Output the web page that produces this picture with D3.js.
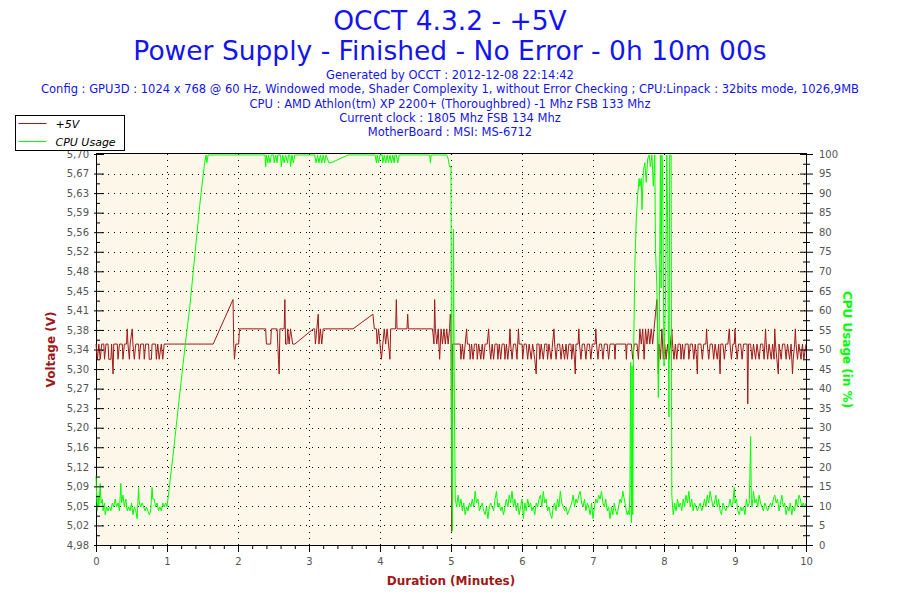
<!DOCTYPE html>
<html>
<head>
<meta charset="utf-8">
<script src="https://cdn.jsdelivr.net/npm/d3@7"></script>
<style>
  body { margin: 0; background: white; }
  svg { display: block; font-family: "DejaVu Sans", Verdana, sans-serif; }
</style>
</head>
<body>
<svg id="chart" width="900" height="600"></svg>
<script>
// titles + info lines
const titleLines = ["OCCT 4.3.2 - +5V", "Power Supply - Finished - No Error - 0h 10m 00s"]
const infoLines = [
    "Generated by OCCT : 2012-12-08 22:14:42",
    "Config : GPU3D : 1024 x 768 @ 60 Hz, Windowed mode, Shader Complexity 1, without Error Checking ; CPU:Linpack : 32bits mode, 1026,9MB",
    "CPU : AMD Athlon(tm) XP 2200+ (Thoroughbred) -1 Mhz FSB 133 Mhz",
    "Current clock : 1805 Mhz FSB 134 Mhz",
    "MotherBoard : MSI: MS-6712"
]
const seriesNames = ["+5V", "CPU Usage"]

// axis ticks
const voltTickLabels = ["4,98", "5,02", "5,05", "5,09", "5,12", "5,16", "5,20", "5,23", "5,27", "5,30", "5,34",
    "5,38", "5,41", "5,45", "5,48", "5,52", "5,56", "5,59", "5,63", "5,67", "5,70"]
const cpuTicks = [0, 5, 10, 15, 20, 25, 30, 35, 40, 45, 50, 55, 60, 65, 70, 75, 80, 85, 90, 95, 100]
const minuteTicks = [0, 1, 2, 3, 4, 5, 6, 7, 8, 9, 10]

// [minutes, volts]
const voltage = [
    [0, 5.35], [0.02, 5.322], [0.04, 5.35], [0.06, 5.322], [0.08, 5.35], [0.11, 5.35], [0.12, 5.322], [0.14, 5.35],
    [0.17, 5.35], [0.18, 5.322], [0.21, 5.322], [0.22, 5.35], [0.24, 5.295], [0.25, 5.35], [0.30, 5.35], [0.31, 5.322],
    [0.33, 5.35], [0.37, 5.35], [0.38, 5.322], [0.40, 5.35], [0.43, 5.35], [0.44, 5.378], [0.45, 5.35], [0.47, 5.322],
    [0.48, 5.35], [0.51, 5.378], [0.52, 5.35], [0.54, 5.322], [0.56, 5.35], [0.60, 5.35], [0.61, 5.322], [0.63, 5.35],
    [0.67, 5.35], [0.68, 5.322], [0.70, 5.35], [0.74, 5.35], [0.75, 5.322], [0.78, 5.322], [0.79, 5.35], [0.84, 5.35],
    [0.85, 5.322], [0.87, 5.35], [0.89, 5.322], [0.92, 5.35], [0.94, 5.322], [0.96, 5.35],
    [1.65, 5.35], [1.93, 5.432], [1.94, 5.35], [1.95, 5.322], [1.97, 5.35], [2.01, 5.35], [2.02, 5.378], [2.39, 5.378],
    [2.40, 5.35], [2.46, 5.35], [2.47, 5.378], [2.55, 5.378], [2.56, 5.35], [2.57, 5.322], [2.58, 5.295], [2.59, 5.378],
    [2.65, 5.378], [2.66, 5.432], [2.67, 5.35], [2.69, 5.35], [2.70, 5.378], [2.72, 5.35], [2.74, 5.378], [2.77, 5.35],
    [2.80, 5.35],
    [3.06, 5.378], [3.08, 5.378], [3.09, 5.35], [3.11, 5.378], [3.13, 5.405], [3.14, 5.35], [3.16, 5.378], [3.18, 5.35],
    [3.20, 5.378], [3.62, 5.378], [3.90, 5.405], [3.92, 5.378], [3.95, 5.378], [3.96, 5.35], [3.98, 5.378], [4.00, 5.35],
    [4.02, 5.322], [4.04, 5.35], [4.06, 5.378], [4.08, 5.35], [4.10, 5.378], [4.12, 5.35], [4.14, 5.322], [4.15, 5.378],
    [4.22, 5.378], [4.23, 5.432], [4.24, 5.378], [4.38, 5.378], [4.39, 5.405], [4.40, 5.378], [4.74, 5.378], [4.76, 5.35],
    [4.77, 5.432], [4.78, 5.378], [4.80, 5.35], [4.82, 5.378], [4.84, 5.322], [4.86, 5.378], [4.88, 5.35], [4.90, 5.378],
    [4.92, 5.35], [4.94, 5.378], [4.96, 5.35], [4.98, 5.378], [4.99, 5.405], [5.00, 5.39], [5.01, 5.005], [5.02, 5.35],
    [5.13, 5.35], [5.14, 5.322], [5.16, 5.35], [5.18, 5.322], [5.20, 5.35], [5.22, 5.378], [5.23, 5.35], [5.26, 5.35],
    [5.27, 5.322], [5.29, 5.35], [5.31, 5.322], [5.33, 5.35], [5.36, 5.35], [5.37, 5.322], [5.39, 5.35], [5.42, 5.322],
    [5.44, 5.35], [5.46, 5.322], [5.48, 5.35], [5.51, 5.35], [5.53, 5.378], [5.54, 5.35], [5.56, 5.322], [5.58, 5.35],
    [5.60, 5.322], [5.62, 5.35], [5.65, 5.35], [5.66, 5.322], [5.68, 5.35], [5.70, 5.322], [5.72, 5.35], [5.75, 5.35],
    [5.76, 5.322], [5.78, 5.35], [5.80, 5.322], [5.82, 5.35], [5.83, 5.378], [5.84, 5.35], [5.86, 5.322], [5.88, 5.35],
    [5.91, 5.35], [5.93, 5.322], [5.95, 5.378], [5.96, 5.35], [6.00, 5.35], [6.01, 5.322], [6.03, 5.35], [6.06, 5.35],
    [6.08, 5.322], [6.10, 5.35], [6.13, 5.322], [6.15, 5.35], [6.18, 5.322], [6.20, 5.295], [6.21, 5.35], [6.24, 5.35],
    [6.25, 5.322], [6.27, 5.35], [6.30, 5.322], [6.32, 5.35], [6.35, 5.35], [6.36, 5.322], [6.38, 5.35], [6.41, 5.322],
    [6.43, 5.35], [6.45, 5.378], [6.46, 5.35], [6.48, 5.322], [6.50, 5.35], [6.53, 5.35], [6.55, 5.322], [6.57, 5.35],
    [6.60, 5.322], [6.62, 5.35], [6.64, 5.322], [6.66, 5.35], [6.69, 5.35], [6.70, 5.322], [6.72, 5.35], [6.74, 5.322],
    [6.75, 5.295], [6.76, 5.35], [6.79, 5.35], [6.80, 5.378], [6.81, 5.35], [6.83, 5.322], [6.85, 5.35], [6.88, 5.35],
    [6.90, 5.322], [6.92, 5.35], [6.95, 5.35], [6.97, 5.322], [6.99, 5.35], [7.03, 5.35], [7.04, 5.378], [7.05, 5.35],
    [7.07, 5.322], [7.09, 5.35], [7.12, 5.35], [7.14, 5.322], [7.16, 5.35], [7.20, 5.35], [7.22, 5.322], [7.24, 5.35],
    [7.30, 5.35], [7.31, 5.322], [7.32, 5.35], [7.46, 5.35], [7.47, 5.322], [7.48, 5.35], [7.54, 5.35], [7.56, 5.322],
    [7.58, 5.35], [7.62, 5.35], [7.64, 5.322], [7.66, 5.378], [7.68, 5.35], [7.70, 5.378], [7.72, 5.322], [7.74, 5.378],
    [7.76, 5.35], [7.78, 5.378], [7.80, 5.35], [7.82, 5.378], [7.84, 5.35], [7.86, 5.378], [7.88, 5.405], [7.90, 5.432],
    [7.91, 5.378], [7.92, 5.295], [7.93, 5.35], [7.95, 5.322], [7.97, 5.378], [7.99, 5.322], [8.01, 5.35], [8.03, 5.322],
    [8.05, 5.35], [8.07, 5.322], [8.09, 5.35], [8.11, 5.378], [8.12, 5.35], [8.14, 5.322], [8.16, 5.35], [8.18, 5.322],
    [8.20, 5.35], [8.23, 5.35], [8.24, 5.322], [8.26, 5.35], [8.28, 5.322], [8.30, 5.35], [8.34, 5.35], [8.35, 5.322],
    [8.37, 5.35], [8.40, 5.35], [8.42, 5.322], [8.44, 5.35], [8.46, 5.322], [8.47, 5.295], [8.48, 5.35], [8.52, 5.35],
    [8.54, 5.322], [8.56, 5.35], [8.59, 5.35], [8.60, 5.378], [8.61, 5.35], [8.63, 5.322], [8.65, 5.35], [8.68, 5.35],
    [8.70, 5.322], [8.72, 5.35], [8.75, 5.322], [8.77, 5.35], [8.78, 5.322], [8.79, 5.295], [8.80, 5.35], [8.83, 5.35],
    [8.85, 5.322], [8.87, 5.35], [8.90, 5.35], [8.92, 5.378], [8.93, 5.35], [8.95, 5.322], [8.97, 5.35], [8.99, 5.35],
    [9.00, 5.378], [9.01, 5.35], [9.03, 5.322], [9.05, 5.35], [9.08, 5.35], [9.10, 5.322], [9.12, 5.35], [9.17, 5.35],
    [9.18, 5.24], [9.19, 5.35], [9.22, 5.35], [9.24, 5.322], [9.26, 5.35], [9.29, 5.322], [9.31, 5.35], [9.34, 5.322],
    [9.36, 5.35], [9.39, 5.35], [9.41, 5.322], [9.43, 5.378], [9.44, 5.35], [9.46, 5.322], [9.48, 5.35], [9.51, 5.322],
    [9.53, 5.35], [9.55, 5.322], [9.56, 5.378], [9.57, 5.35], [9.59, 5.322], [9.61, 5.295], [9.62, 5.35], [9.65, 5.322],
    [9.67, 5.35], [9.70, 5.35], [9.72, 5.322], [9.74, 5.35], [9.77, 5.322], [9.79, 5.35], [9.81, 5.295], [9.82, 5.322],
    [9.84, 5.35], [9.85, 5.378], [9.86, 5.35], [9.88, 5.322], [9.90, 5.35], [9.93, 5.322], [9.95, 5.35], [9.97, 5.322],
    [10.0, 5.35]
]

// [minutes, percent]
const cpuUsage = [
    [0, 18], [0.01, 12], [0.02, 9], [0.03, 13], [0.04, 10], [0.06, 16], [0.07, 11], [0.09, 12], [0.10, 9], [0.12, 11],
    [0.13, 8], [0.15, 10], [0.17, 9], [0.19, 10], [0.21, 9], [0.23, 11], [0.25, 10], [0.27, 12], [0.29, 10], [0.31, 11],
    [0.33, 9], [0.35, 16], [0.36, 11], [0.38, 13], [0.40, 10], [0.42, 12], [0.44, 9], [0.46, 10], [0.48, 9], [0.50, 11],
    [0.52, 8], [0.54, 10], [0.56, 9], [0.58, 7], [0.60, 15], [0.61, 11], [0.63, 10], [0.65, 11], [0.67, 10], [0.69, 9],
    [0.71, 10], [0.73, 9], [0.75, 8], [0.77, 9], [0.79, 15], [0.80, 12], [0.82, 12], [0.84, 10], [0.86, 11], [0.88, 9],
    [0.90, 10], [0.92, 9], [0.94, 11], [0.96, 10], [0.98, 11], [1.00, 10],
    [1.02, 13], [1.09, 24], [1.18, 39], [1.26, 52], [1.32, 61], [1.46, 87], [1.53, 98], [1.55, 100], [1.56, 98], [1.58, 100],
    [2.38, 100], [2.39, 97], [2.40, 100], [2.42, 98], [2.43, 100], [2.45, 98], [2.47, 100], [2.50, 100], [2.51, 98],
    [2.53, 100], [2.55, 98], [2.56, 100], [2.60, 100], [2.61, 97], [2.63, 100], [2.65, 98], [2.67, 100], [2.70, 98],
    [2.71, 100], [2.73, 100], [2.74, 97], [2.76, 100], [2.78, 98], [2.80, 100], [3.08, 100], [3.10, 98], [3.12, 100],
    [3.14, 98], [3.16, 100], [3.18, 98], [3.20, 100], [3.22, 98], [3.24, 100], [3.26, 99], [3.28, 98], [3.31, 98],
    [3.55, 100], [3.93, 100], [3.95, 98], [3.96, 100], [3.98, 98], [4.00, 100], [4.03, 100], [4.04, 98], [4.06, 100],
    [4.08, 98], [4.10, 100], [4.12, 98], [4.14, 100], [4.16, 98], [4.18, 100], [4.20, 98], [4.21, 100], [4.23, 100],
    [4.25, 98], [4.27, 100], [4.70, 100], [4.71, 98], [4.72, 100], [4.94, 100], [4.96, 99], [4.98, 97], [5.00, 97],
    [5.01, 19], [5.02, 4], [5.035, 81], [5.045, 43], [5.06, 12],
    [5.08, 10], [5.10, 13], [5.12, 10], [5.14, 12], [5.16, 9], [5.18, 11], [5.20, 8], [5.22, 10], [5.24, 9], [5.26, 11],
    [5.28, 10], [5.30, 12], [5.32, 10], [5.34, 14], [5.36, 11], [5.38, 12], [5.40, 9], [5.42, 10], [5.44, 11], [5.46, 9],
    [5.48, 8], [5.50, 10], [5.52, 7], [5.54, 10], [5.56, 11], [5.58, 10], [5.60, 9], [5.62, 12], [5.64, 14], [5.66, 10],
    [5.68, 11], [5.70, 9], [5.72, 10], [5.74, 8], [5.76, 10], [5.78, 12], [5.80, 10], [5.82, 13], [5.84, 11], [5.86, 14],
    [5.88, 10], [5.90, 12], [5.92, 9], [5.94, 11], [5.96, 8], [5.98, 10], [6.00, 12], [6.02, 7], [6.04, 11], [6.06, 9],
    [6.08, 12], [6.10, 10], [6.12, 11], [6.14, 9], [6.16, 10], [6.18, 8], [6.20, 11], [6.22, 10], [6.24, 12], [6.26, 13],
    [6.28, 10], [6.30, 14], [6.32, 11], [6.34, 12], [6.36, 9], [6.38, 10], [6.40, 8], [6.42, 7], [6.44, 10], [6.46, 11],
    [6.48, 9], [6.50, 12], [6.52, 10], [6.54, 14], [6.56, 11], [6.58, 10], [6.60, 9], [6.62, 10], [6.64, 8], [6.66, 9],
    [6.68, 10], [6.70, 11], [6.72, 13], [6.74, 10], [6.76, 12], [6.78, 11], [6.80, 13], [6.82, 14], [6.84, 11], [6.86, 10],
    [6.88, 12], [6.90, 9], [6.92, 11], [6.94, 10], [6.96, 8], [6.98, 11], [7.00, 7], [7.02, 10], [7.04, 12], [7.06, 11],
    [7.08, 13], [7.10, 12], [7.12, 14], [7.14, 11], [7.16, 10], [7.18, 12], [7.20, 9], [7.22, 10], [7.24, 7], [7.26, 10],
    [7.28, 8], [7.30, 11], [7.32, 9], [7.34, 8], [7.36, 10], [7.38, 12], [7.40, 11], [7.42, 14], [7.44, 12], [7.46, 10],
    [7.48, 8], [7.50, 9], [7.51, 8], [7.52, 14],
    [7.53, 47], [7.54, 6], [7.55, 46], [7.56, 8], [7.57, 47], [7.59, 72], [7.61, 84], [7.63, 90], [7.65, 94], [7.66, 92],
    [7.68, 94], [7.69, 86], [7.71, 96], [7.73, 98], [7.75, 93], [7.77, 99], [7.79, 100], [7.81, 97], [7.83, 100],
    [7.85, 92], [7.87, 100], [7.88, 76], [7.90, 66], [7.92, 38], [7.93, 48], [7.95, 100], [7.96, 66], [7.97, 100],
    [7.98, 96], [8.00, 46], [8.02, 62], [8.04, 100], [8.05, 84], [8.06, 57], [8.07, 33], [8.08, 100], [8.10, 100],
    [8.11, 13], [8.13, 8], [8.15, 11], [8.17, 9], [8.19, 12], [8.21, 10], [8.23, 11], [8.25, 9], [8.27, 12], [8.29, 10],
    [8.31, 13], [8.33, 11], [8.35, 14], [8.37, 10], [8.39, 12], [8.41, 9], [8.43, 11], [8.45, 10], [8.47, 9], [8.49, 10],
    [8.51, 11], [8.53, 9], [8.55, 10], [8.57, 12], [8.59, 10], [8.61, 13], [8.63, 11], [8.65, 14], [8.67, 12], [8.69, 10],
    [8.71, 11], [8.73, 13], [8.75, 10], [8.77, 12], [8.79, 9], [8.81, 8], [8.83, 11], [8.85, 10], [8.87, 9], [8.89, 10],
    [8.91, 10], [8.93, 12], [8.95, 10], [8.97, 11], [8.99, 15], [9.00, 11], [9.02, 12], [9.04, 9], [9.06, 8], [9.08, 10],
    [9.10, 9], [9.12, 10], [9.14, 8], [9.16, 12], [9.18, 10], [9.20, 11], [9.21, 18], [9.22, 28], [9.23, 12], [9.24, 10],
    [9.26, 14], [9.28, 11], [9.30, 12], [9.32, 10], [9.34, 13], [9.36, 11], [9.38, 10], [9.40, 9], [9.42, 11], [9.44, 10],
    [9.46, 9], [9.48, 10], [9.50, 11], [9.52, 10], [9.54, 12], [9.56, 13], [9.58, 11], [9.60, 12], [9.62, 9], [9.64, 11],
    [9.66, 13], [9.68, 10], [9.70, 11], [9.72, 8], [9.74, 10], [9.76, 9], [9.78, 11], [9.80, 8], [9.82, 10], [9.84, 9],
    [9.86, 12], [9.88, 10], [9.90, 13], [9.92, 12], [9.94, 10], [9.96, 11], [9.98, 10], [10.0, 11]
]

const margin = { left: 96, right: 94, top: 154, bottom: 55 }
const width = 900, height = 600
const plotW = width - margin.left - margin.right
const plotH = height - margin.top - margin.bottom

const voltColor = "#a01818"
const cpuColor = "#00ff00"
const titleColor = "#1414f0"
const tickColor = "#555555"

const svg = d3.select("#chart")

const x = d3.scaleLinear().domain([0, 10]).range([margin.left, margin.left + plotW])
const yVolt = d3.scaleLinear().domain([4.98, 5.70]).range([margin.top + plotH, margin.top])
const yCpu = d3.scaleLinear().domain([0, 100]).range([margin.top + plotH, margin.top])

// one volt tick per label, evenly spread over the domain
const voltTicks = voltTickLabels.map((d, i) => 4.98 + i * (0.72 / (voltTickLabels.length - 1)))

// titles
svg.selectAll(".title")
    .data(titleLines)
    .join("text")
    .attr("class", "title")
    .attr("x", width / 2)
    .attr("y", (d, i) => 30 + i * 30)
    .attr("text-anchor", "middle")
    .attr("fill", titleColor)
    .style("font-size", "26.5px")
    .text(d => d)

svg.selectAll(".info")
    .data(infoLines)
    .join("text")
    .attr("class", "info")
    .attr("x", width / 2)
    .attr("y", (d, i) => 79 + i * 14.3)
    .attr("text-anchor", "middle")
    .attr("fill", titleColor)
    .style("font-size", "11.5px")
    .text(d => d)

// plot background
svg.append("rect")
    .attr("x", margin.left)
    .attr("y", margin.top)
    .attr("width", plotW)
    .attr("height", plotH)
    .attr("fill", "#fdf7e9")

// dotted grid
const grid = svg.append("g")
    .attr("stroke", "black")
    .attr("stroke-width", 1)
    .attr("stroke-dasharray", "1,5")

grid.selectAll(".hgrid")
    .data(cpuTicks.slice(1, -1))
    .join("line")
    .attr("class", "hgrid")
    .attr("x1", margin.left)
    .attr("x2", margin.left + plotW)
    .attr("y1", d => Math.round(yCpu(d)) + 0.5)
    .attr("y2", d => Math.round(yCpu(d)) + 0.5)

grid.selectAll(".vgrid")
    .data(minuteTicks.slice(1, -1))
    .join("line")
    .attr("class", "vgrid")
    .attr("y1", margin.top)
    .attr("y2", margin.top + plotH)
    .attr("x1", d => Math.round(x(d)) + 0.5)
    .attr("x2", d => Math.round(x(d)) + 0.5)

// frame (drawn before the lines so the 100% line stays visible)
svg.append("rect")
    .attr("x", margin.left + 0.5)
    .attr("y", margin.top - 0.5)
    .attr("width", plotW)
    .attr("height", plotH + 1)
    .attr("fill", "none")
    .attr("stroke", "black")

// lines
const voltLine = d3.line().x(d => x(d[0])).y(d => yVolt(d[1]))
const cpuLine = d3.line().x(d => x(d[0])).y(d => yCpu(d[1]) + 1)

svg.append("path")
    .datum(voltage)
    .attr("fill", "none")
    .attr("stroke", voltColor)
    .attr("stroke-width", 1)
    .attr("d", voltLine)

svg.append("path")
    .datum(cpuUsage)
    .attr("fill", "none")
    .attr("stroke", cpuColor)
    .attr("stroke-width", 1)
    .attr("d", cpuLine)

// axes, ticks drawn by d3, then tweaked
const styleAxis = (g) => {
    g.select(".domain").remove()
    g.selectAll("text")
        .attr("fill", tickColor)
        .style("font-size", "10px")
        .style("font-family", "DejaVu Sans, sans-serif")
    g.selectAll("line").attr("stroke", "black")
}

const xMinor = d3.range(0, 50).map(i => i / 5).filter(d => d % 1 !== 0)

svg.append("g")
    .attr("transform", `translate(0,${margin.top + plotH})`)
    .call(d3.axisBottom(x).tickValues(minuteTicks).tickFormat(d3.format("d")).tickSize(7).tickPadding(6))
    .call(styleAxis)

svg.append("g")
    .attr("transform", `translate(0,${margin.top + plotH})`)
    .call(d3.axisBottom(x).tickValues(xMinor).tickFormat("").tickSize(4))
    .call(styleAxis)

// left axis: ticks point inward, labels outside
svg.append("g")
    .attr("transform", `translate(${margin.left},0)`)
    .call(d3.axisRight(yVolt).tickValues(voltTicks).tickSize(8).tickFormat(""))
    .call(styleAxis)

svg.append("g")
    .attr("transform", `translate(${margin.left},0)`)
    .call(d3.axisLeft(yVolt).tickValues(voltTicks).tickSize(2).tickPadding(5)
        .tickFormat((d, i) => voltTickLabels[i]))
    .call(styleAxis)

const voltMinor = voltTicks.slice(1).map((d, i) => (d + voltTicks[i]) / 2)
svg.append("g")
    .attr("transform", `translate(${margin.left},0)`)
    .call(d3.axisRight(yVolt).tickValues(voltMinor).tickSize(4).tickFormat(""))
    .call(styleAxis)

// right axis
svg.append("g")
    .attr("transform", `translate(${margin.left + plotW},0)`)
    .call(d3.axisRight(yCpu).tickValues(cpuTicks).tickSize(7).tickPadding(6))
    .call(styleAxis)
    .call(g => g.selectAll(".tick line").attr("x1", -6))

const cpuMinor = cpuTicks.slice(1).map(d => d - 2.5)
svg.append("g")
    .attr("transform", `translate(${margin.left + plotW},0)`)
    .call(d3.axisRight(yCpu).tickValues(cpuMinor).tickSize(4).tickFormat(""))
    .call(styleAxis)
    .call(g => g.selectAll(".tick line").attr("x1", -3))

// axis titles
svg.append("text")
    .attr("transform", `translate(55,${margin.top + plotH / 2}) rotate(-90)`)
    .attr("text-anchor", "middle")
    .attr("fill", voltColor)
    .style("font-size", "12px")
    .style("font-weight", "bold")
    .text("Voltage (V)")

svg.append("text")
    .attr("transform", `translate(843,${margin.top + plotH / 2}) rotate(90)`)
    .attr("text-anchor", "middle")
    .attr("fill", cpuColor)
    .style("font-size", "12px")
    .style("font-weight", "bold")
    .text("CPU Usage (in %)")

svg.append("text")
    .attr("x", margin.left + plotW / 2)
    .attr("y", 585)
    .attr("text-anchor", "middle")
    .attr("fill", voltColor)
    .style("font-size", "12px")
    .style("font-weight", "bold")
    .text("Duration (Minutes)")

// legend box top left
const legend = svg.append("g").attr("transform", "translate(15.5,115.5)")

legend.append("rect")
    .attr("width", 109)
    .attr("height", 35)
    .attr("fill", "white")
    .attr("stroke", "black")

const legendItems = legend.selectAll(".item")
    .data(seriesNames)
    .join("g")
    .attr("class", "item")
    .attr("transform", (d, i) => `translate(0,${8 + i * 18})`)

legendItems.append("line")
    .attr("x1", 3)
    .attr("x2", 31)
    .attr("stroke", (d, i) => i === 0 ? voltColor : cpuColor)

legendItems.append("text")
    .attr("x", 40)
    .attr("y", 4)
    .style("font-size", "11px")
    .style("font-style", "italic")
    .text(d => d)
</script>
</body>
</html>
